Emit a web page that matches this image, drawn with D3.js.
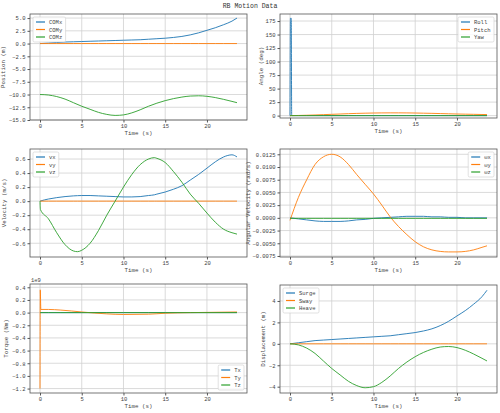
<!DOCTYPE html>
<html><head><meta charset="utf-8">
<script src="https://cdn.jsdelivr.net/npm/d3@7"></script>
<style>body{margin:0;background:#fff}svg{font-family:"Liberation Mono","DejaVu Sans Mono",monospace}</style>
</head><body><svg id="c" width="500" height="413"></svg>
<script>
const t = [0,1,2,3,4,5,6,7,8,9,10,11,12,13,14,15,16,17,18,19,20,21,22,23,23.6];
const comX = [0,0.1,0.2,0.3,0.35,0.4,0.45,0.5,0.55,0.6,0.65,0.7,0.75,0.85,0.95,1.05,1.2,1.4,1.7,2.1,2.6,3.1,3.7,4.4,5.0];
const comY = t.map(()=>0);
const comZ = [-10,-10.1,-10.4,-10.9,-11.6,-12.3,-12.9,-13.5,-13.9,-14.1,-14.0,-13.6,-13.0,-12.3,-11.7,-11.2,-10.8,-10.5,-10.3,-10.25,-10.35,-10.6,-10.95,-11.35,-11.6];
const tRoll = [0,0.05,0.15,0.2,23.6];
const roll = [0,180,180,0,0];
const pitch = [0,0.3,0.7,1.2,1.8,2.4,3.0,3.6,4.1,4.5,4.8,5.0,5.1,5.1,5.0,4.8,4.5,4.2,3.8,3.4,3.0,2.7,2.4,2.1,2.0];
const yaw = t.map(()=>0);
const tV = [0,0.05,1,2,3,4,4.5,5,6,7,8,9,10,11,12,13,13.7,14,15,16,17,18,19,20,21,22,23,23.6];
const vx = [0,0.002,0.03,0.05,0.065,0.075,0.078,0.08,0.08,0.075,0.07,0.065,0.06,0.06,0.065,0.08,0.09,0.1,0.13,0.17,0.22,0.3,0.38,0.47,0.56,0.63,0.66,0.63];
const vy = tV.map(()=>0);
const vz = [0,-0.12,-0.25,-0.45,-0.62,-0.71,-0.72,-0.7,-0.6,-0.42,-0.2,0.0,0.2,0.38,0.52,0.6,0.62,0.61,0.55,0.42,0.27,0.1,-0.03,-0.17,-0.3,-0.4,-0.45,-0.47];
const wx = [0,-0.0002,-0.0004,-0.0006,-0.0007,-0.0007,-0.0007,-0.0006,-0.0004,-0.0003,-0.0001,0,0.0001,0.0002,0.0003,0.0003,0.0003,0.0002,0.0002,0.0001,0.0001,0,0,0,0];
const wy = [-0.0005,0.004,0.0075,0.0105,0.012,0.0125,0.012,0.0105,0.0085,0.0066,0.0047,0.0025,0.0002,-0.0017,-0.0033,-0.0047,-0.0057,-0.0063,-0.0066,-0.0067,-0.0067,-0.0066,-0.0063,-0.0058,-0.0055];
const wz = t.map(()=>-0.0001);
const tT = [0,0.03,0.1,1,2.5,5,8,10,13,15,18,23.6];
const tx = tT.map(()=>0);
const ty = [-1.2,0.36,0.05,0.05,0.04,0.01,-0.02,-0.03,-0.025,-0.01,0,0.01];
const tz = tT.map(()=>0);
const surge = comX;
const sway = comY;
const heave = [0,-0.1,-0.4,-0.9,-1.6,-2.3,-2.9,-3.5,-3.9,-4.1,-4.0,-3.6,-3.0,-2.3,-1.7,-1.2,-0.8,-0.5,-0.3,-0.25,-0.35,-0.6,-0.95,-1.35,-1.6];
const xTicks=[0,5,10,15,20];
const C=["#1f77b4","#ff7f0e","#2ca02c"];
const svg=d3.select("#c");
svg.append("text").attr("x",250).attr("y",8).attr("text-anchor","middle").attr("font-size",6.5).attr("fill","#333").text("RB Motion Data");
const panels=[
 {x0:30,x1:247,y0:14,y1:120,yd:[-15,5.8],yt:[5,2.5,0,-2.5,-5,-7.5,-10,-12.5,-15],fmt:d3.format(".1f"),yl:"Position (m)",ylo:25,
  s:[[t,comX,"COMx"],[t,comY,"COMy"],[t,comZ,"COMz"]],leg:"ul"},
 {x0:280,x1:497,y0:14,y1:118,yd:[-4.4,188],yt:[0,25,50,75,100,125,150,175],fmt:d3.format("d"),yl:"Angle (deg)",ylo:17,
  s:[[tRoll,roll,"Roll"],[t,pitch,"Pitch"],[t,yaw,"Yaw"]],leg:"ur"},
 {x0:30,x1:247,y0:149,y1:257,yd:[-0.796,0.743],yt:[0.6,0.4,0.2,0,-0.2,-0.4,-0.6],fmt:d3.format(".1f"),yl:"Velocity (m/s)",ylo:24,
  s:[[tV,vx,"vx"],[tV,vy,"vy"],[tV,vz,"vz"]],leg:"ul"},
 {x0:280,x1:497,y0:149,y1:257,yd:[-0.0077,0.01354],yt:[0.0125,0.01,0.0075,0.005,0.0025,0,-0.0025,-0.005,-0.0075],fmt:d3.format(".4f"),yl:"Angular Velocity (rad/s)",ylo:30,
  s:[[t,wx,"ωx"],[t,wy,"ωy"],[t,wz,"ωz"]],leg:"ur"},
 {x0:30,x1:247,y0:284,y1:393,yd:[-1.27,0.452],yt:[0.4,0.2,0,-0.2,-0.4,-0.6,-0.8,-1.0,-1.2],fmt:d3.format(".1f"),yl:"Torque (Nm)",ylo:22,
  s:[[tT,tx,"Tx"],[tT,ty,"Ty"],[tT,tz,"Tz"]],leg:"lr",off:"1e9"},
 {x0:280,x1:497,y0:285,y1:393,yd:[-4.59,5.49],yt:[4,2,0,-2,-4],fmt:d3.format("d"),yl:"Displacement (m)",ylo:15,
  s:[[t,surge,"Surge"],[t,sway,"Sway"],[t,heave,"Heave"]],leg:"ul"}
];
panels.forEach(p=>{
  const xs=d3.scaleLinear().domain([-1.2,24.8]).range([p.x0,p.x1]);
  const ys=d3.scaleLinear().domain(p.yd).range([p.y1,p.y0]);
  const g=svg.append("g");
  g.selectAll(".gx").data(xTicks).join("line").attr("x1",d=>xs(d)).attr("x2",d=>xs(d)).attr("y1",p.y0).attr("y2",p.y1).attr("stroke","#d0d0d0").attr("stroke-width",0.8);
  g.selectAll(".gy").data(p.yt).join("line").attr("y1",d=>ys(d)).attr("y2",d=>ys(d)).attr("x1",p.x0).attr("x2",p.x1).attr("stroke","#d0d0d0").attr("stroke-width",0.8);
  const ln=d3.line().x((d)=>xs(d[0])).y(d=>ys(d[1])).curve(d3.curveMonotoneX);
  p.s.forEach((s,i)=>{
    g.append("path").attr("d",ln(s[0].map((v,j)=>[v,s[1][j]]))).attr("fill","none").attr("stroke",C[i]).attr("stroke-width",1).attr("opacity",0.9);
  });
  g.append("rect").attr("x",p.x0).attr("y",p.y0).attr("width",p.x1-p.x0).attr("height",p.y1-p.y0).attr("fill","none").attr("stroke","#555").attr("stroke-width",0.8);
  const ax=g.append("g").attr("transform",`translate(0,${p.y1})`).call(d3.axisBottom(xs).tickValues(xTicks).tickSize(2.5).tickPadding(2));
  const ay=g.append("g").attr("transform",`translate(${p.x0},0)`).call(d3.axisLeft(ys).tickValues(p.yt).tickFormat(p.fmt).tickSize(2.5).tickPadding(2));
  [ax,ay].forEach(a=>{a.select(".domain").remove();a.selectAll("text").attr("font-size",5.5).attr("fill","#444").attr("font-family","Liberation Mono");a.selectAll("line").attr("stroke","#555");});
  g.append("text").attr("x",(p.x0+p.x1)/2).attr("y",p.y1+15).attr("text-anchor","middle").attr("font-size",5.8).attr("fill","#444").text("Time (s)");
  g.append("text").attr("transform",`translate(${p.x0-p.ylo},${(p.y0+p.y1)/2}) rotate(-90)`).attr("text-anchor","middle").attr("font-size",5.8).attr("fill","#444").text(p.yl);
  if(p.off) g.append("text").attr("x",p.x0+1).attr("y",p.y0-2).attr("font-size",5.5).attr("fill","#444").text(p.off);
  const maxLen=d3.max(p.s,s=>s[2].length);
  const w=19+maxLen*3.4, lh=25;
  let lx,ly;
  if(p.leg=="ul"){lx=p.x0+3;ly=p.y0+3;}
  else if(p.leg=="ur"){lx=p.x1-3-w;ly=p.y0+3;}
  else {lx=p.x1-3-w;ly=p.y1-3-lh;}
  const L=g.append("g").attr("transform",`translate(${lx},${ly})`);
  L.append("rect").attr("width",w).attr("height",lh).attr("fill","#fff").attr("fill-opacity",0.85).attr("stroke","#ccc").attr("stroke-width",0.6).attr("rx",1.5);
  p.s.forEach((s,i)=>{
    L.append("line").attr("x1",3).attr("x2",12).attr("y1",5+i*7.5).attr("y2",5+i*7.5).attr("stroke",C[i]).attr("stroke-width",1.2);
    L.append("text").attr("x",16).attr("y",7+i*7.5).attr("font-size",5.5).attr("fill","#444").text(s[2]);
  });
});
</script></body></html>
